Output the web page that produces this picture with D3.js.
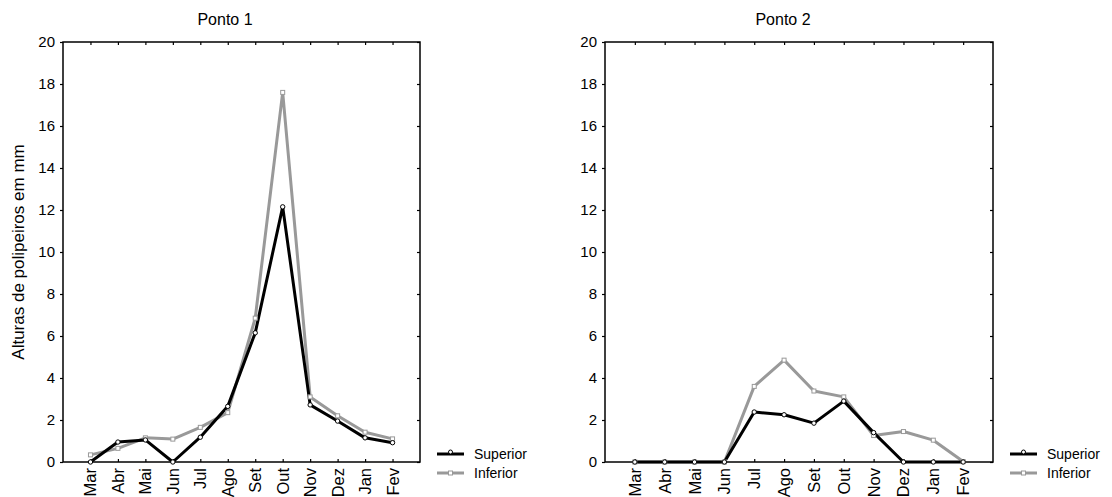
<!DOCTYPE html>
<html>
<head>
<meta charset="utf-8">
<script src="https://cdn.jsdelivr.net/npm/d3@7"></script>
<style>
  body { margin: 0; background: #fff; }
  svg text { font-family: "Liberation Sans", Arial, sans-serif; fill: #000; }
</style>
</head>
<body>
<div id="chart"></div>
<script>
const months = ["Mar", "Abr", "Mai", "Jun", "Jul", "Ago", "Set", "Out", "Nov", "Dez", "Jan", "Fev"];
const yTicks = [0, 2, 4, 6, 8, 10, 12, 14, 16, 18, 20];
const seriesNames = ["Superior", "Inferior"];

// Ponto 1
const superior1 = [0, 0.95, 1.05, 0, 1.18, 2.65, 6.15, 12.15, 2.72, 1.95, 1.15, 0.92];
const inferior1 = [0.34, 0.65, 1.15, 1.09, 1.65, 2.35, 6.85, 17.6, 3.1, 2.2, 1.42, 1.1];
// Ponto 2
const superior2 = [0, 0, 0, 0, 2.38, 2.25, 1.85, 2.9, 1.4, 0, 0, 0];
const inferior2 = [0, 0, 0, 0, 3.6, 4.85, 3.38, 3.1, 1.26, 1.45, 1.04, 0.02];

const WIDTH = 1112;
const HEIGHT = 497;
const TOP = 42;
const BOTTOM = 462;
const GRAY = "#999999";

const panels = [
    { title: "Ponto 1", left: 63, right: 420, titleX: 225, sup: superior1, inf: inferior1, ylabel: true },
    { title: "Ponto 2", left: 605, right: 993, titleX: 783, sup: superior2, inf: inferior2, ylabel: false }
];

let svg = d3.select("#chart")
    .append("svg")
    .attr("width", WIDTH)
    .attr("height", HEIGHT);

panels.forEach(p => drawPanel(p));

function drawPanel(p) {
    let g = svg.append("g");

    let xScale = d3.scalePoint()
        .domain(months)
        .range([p.left, p.right])
        .padding(1);

    let yScale = d3.scaleLinear()
        .domain([0, 20])
        .range([BOTTOM, TOP]);

    // left axis (ticks outside)
    let yAxis = g.append("g")
        .attr("transform", "translate(" + p.left + ",0)")
        .call(d3.axisLeft(yScale).tickValues(yTicks).tickSize(3).tickPadding(5));
    yAxis.select(".domain").remove();
    yAxis.selectAll("text").style("font-size", "15px");

    // right ticks (inside)
    g.append("g")
        .attr("transform", "translate(" + p.right + ",0)")
        .call(d3.axisLeft(yScale).tickValues(yTicks).tickSize(3).tickFormat(""))
        .select(".domain").remove();

    // top ticks (inside)
    g.append("g")
        .attr("transform", "translate(0," + TOP + ")")
        .call(d3.axisBottom(xScale).tickSize(3).tickFormat(""))
        .select(".domain").remove();

    // bottom axis (ticks inside, rotated labels)
    let xAxis = g.append("g")
        .attr("transform", "translate(0," + BOTTOM + ")")
        .call(d3.axisTop(xScale).tickSize(3).tickFormat(""));
    xAxis.select(".domain").remove();

    g.append("g")
        .selectAll("text")
        .data(months)
        .enter()
        .append("text")
        .attr("transform", d => "translate(" + (xScale(d) + 6) + "," + (BOTTOM + 6) + ")rotate(-90)")
        .attr("text-anchor", "end")
        .style("font-size", "16.5px")
        .text(d => d);

    // frame
    g.append("rect")
        .attr("x", p.left)
        .attr("y", TOP)
        .attr("width", p.right - p.left)
        .attr("height", BOTTOM - TOP)
        .attr("fill", "none")
        .attr("stroke", "#000")
        .attr("stroke-width", 1.5);

    g.selectAll(".tick line").attr("stroke", "#000").attr("stroke-width", 1.2);

    // title
    g.append("text")
        .attr("x", p.titleX)
        .attr("y", 25)
        .attr("text-anchor", "middle")
        .style("font-size", "16px")
        .text(p.title);

    if (p.ylabel) {
        g.append("text")
            .attr("transform", "translate(24," + ((TOP + BOTTOM) / 2) + ")rotate(-90)")
            .attr("text-anchor", "middle")
            .style("font-size", "17px")
            .text("Alturas de polipeiros em mm");
    }

    let line = d3.line()
        .x((d, i) => xScale(months[i]))
        .y(d => yScale(d));

    // inferior (gray) below superior
    g.append("path")
        .datum(p.inf)
        .attr("d", line)
        .attr("fill", "none")
        .attr("stroke", GRAY)
        .attr("stroke-width", 3)
        .attr("stroke-linejoin", "round");

    g.append("path")
        .datum(p.sup)
        .attr("d", line)
        .attr("fill", "none")
        .attr("stroke", "#000")
        .attr("stroke-width", 3)
        .attr("stroke-linejoin", "round");

    g.append("g")
        .selectAll("rect")
        .data(p.inf)
        .enter()
        .append("rect")
        .attr("x", (d, i) => xScale(months[i]) - 2)
        .attr("y", d => yScale(d) - 2)
        .attr("width", 4)
        .attr("height", 4)
        .attr("fill", "#fff")
        .attr("stroke", GRAY)
        .attr("stroke-width", 1);

    g.append("g")
        .selectAll("circle")
        .data(p.sup)
        .enter()
        .append("circle")
        .attr("cx", (d, i) => xScale(months[i]))
        .attr("cy", d => yScale(d))
        .attr("r", 2.2)
        .attr("fill", "#fff")
        .attr("stroke", "#000")
        .attr("stroke-width", 1);

    // legend
    let legend = g.append("g")
        .attr("transform", "translate(" + (p.right + 17) + ",454)");

    seriesNames.forEach((name, i) => {
        let color = i === 0 ? "#000" : GRAY;
        let row = legend.append("g").attr("transform", "translate(0," + (i * 19) + ")");
        row.append("line")
            .attr("x1", 0).attr("x2", 27)
            .attr("y1", 0).attr("y2", 0)
            .attr("stroke", color)
            .attr("stroke-width", 3);
        if (i === 0) {
            row.append("circle")
                .attr("cx", 13.5).attr("cy", -2).attr("r", 2)
                .attr("fill", "#fff").attr("stroke", color);
        } else {
            row.append("rect")
                .attr("x", 11.5).attr("y", -2).attr("width", 4).attr("height", 4)
                .attr("fill", "#fff").attr("stroke", color);
        }
        row.append("text")
            .attr("x", 37)
            .attr("y", 5)
            .style("font-size", "14px")
            .text(name);
    });
}
</script>
</body>
</html>
